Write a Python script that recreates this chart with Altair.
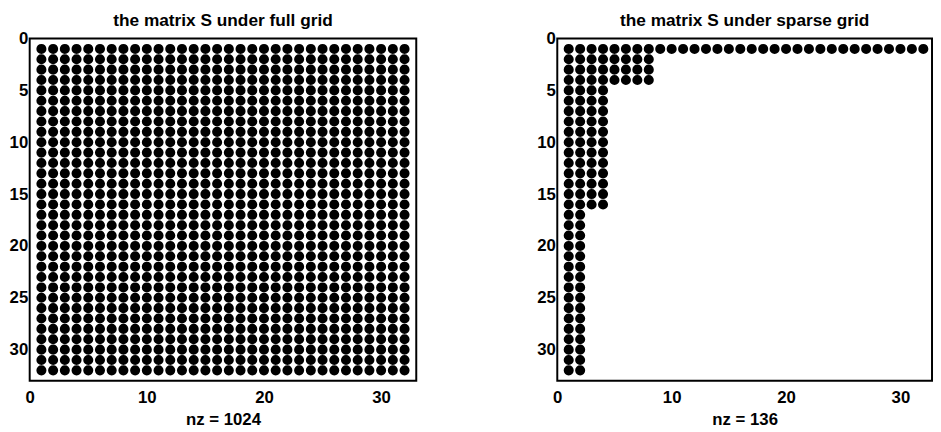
import altair as alt
import pandas as pd

# number of nonzero entries in each row (row 1 .. row 32)
full_row_lengths = [32, 32, 32, 32, 32, 32, 32, 32, 32, 32, 32, 32, 32, 32, 32, 32,
                    32, 32, 32, 32, 32, 32, 32, 32, 32, 32, 32, 32, 32, 32, 32, 32]
sparse_row_lengths = [32, 8, 8, 8, 4, 4, 4, 4, 4, 4, 4, 4, 4, 4, 4, 4,
                      2, 2, 2, 2, 2, 2, 2, 2, 2, 2, 2, 2, 2, 2, 2, 2]
x_ticks = [0, 10, 20, 30]
y_ticks = [0, 5, 10, 15, 20, 25, 30]
titles = ["the matrix S under full grid", "the matrix S under sparse grid"]


def spy_frame(row_lengths):
    rows, cols = [], []
    for r, length in enumerate(row_lengths, start=1):
        for c in range(1, length + 1):
            rows.append(r)
            cols.append(c)
    return pd.DataFrame({"row": rows, "col": cols})


FONT = "Liberation Sans"


def spy_chart(row_lengths, title, width, xmax):
    df = spy_frame(row_lengths)
    nz = len(df)
    return (
        alt.Chart(df)
        .mark_circle(color="black", opacity=1, size=104)
        .encode(
            x=alt.X(
                "col:Q",
                scale=alt.Scale(domain=[0, xmax], nice=False, zero=False),
                axis=alt.Axis(
                    values=x_ticks,
                    title=f"nz = {nz}",
                    grid=False,
                    ticks=False,
                    tickSize=0,
                    domain=False,
                    labelPadding=9,
                    titlePadding=6,
                    labelFlush=False,
                ),
            ),
            y=alt.Y(
                "row:Q",
                scale=alt.Scale(domain=[0, 33], reverse=True, nice=False, zero=False),
                axis=alt.Axis(
                    values=y_ticks,
                    title=None,
                    grid=False,
                    ticks=False,
                    tickSize=0,
                    domain=False,
                    labelPadding=2,
                    labelFlush=False,
                ),
            ),
        )
        .properties(
            width=width,
            height=347,
            title=alt.TitleParams(title, offset=0),
        )
    )


left = spy_chart(full_row_lengths, titles[0], 392, 33)
right = spy_chart(sparse_row_lengths, titles[1], 380, 32.76)

chart = (
    alt.hconcat(left, right, spacing=120)
    .properties(padding={"left": 0, "top": 0, "right": 0, "bottom": 0})
    .configure_view(stroke="black", strokeWidth=2)
    .configure_axis(
        labelFont=FONT,
        labelFontSize=17,
        labelFontWeight="bold",
        labelColor="black",
        titleFont=FONT,
        titleFontSize=17,
        titleFontWeight="bold",
        titleColor="black",
    )
    .configure_title(font=FONT, fontSize=17.5, fontWeight="bold", color="black", anchor="middle")
)

chart.save("out.html", embed_options={"renderer": "svg", "actions": False})
